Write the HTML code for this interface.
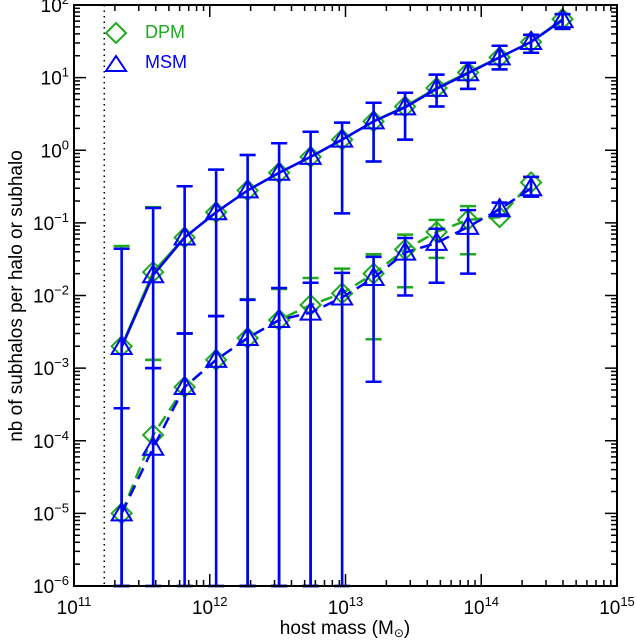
<!DOCTYPE html>
<html><head><meta charset="utf-8"><style>
body{margin:0;background:#fff}
svg{display:block;font-family:"Liberation Sans",sans-serif}
</style></head><body>
<svg id="c" width="636" height="640"></svg>
<script>
const logMass = [11.351,11.583,11.815,12.047,12.279,12.511,12.743,12.975,13.207,13.439,13.671,13.903,14.135,14.367,14.599];
const dpmHalo = [2.0e-3,0.021,0.063,0.14,0.28,0.49,0.81,1.4,2.5,4.0,7.2,11.8,19,31,64];
const dpmHaloUp = [0.048,0.165,0.32,0.54,0.86,1.25,1.8,2.4,4.5,6.2,11,16,27.5,39,75];
const dpmHaloLo = [1e-7,1.3e-3,3e-3,5.2e-3,1e-7,1e-7,1e-7,0.135,0.7,1.4,4,7,13,22,47];
const msmHalo = [1.95e-3,0.019,0.063,0.14,0.28,0.49,0.81,1.4,2.5,3.9,7,11.5,19,31,62];
const msmHaloUp = [0.044,0.16,0.32,0.54,0.86,1.25,1.8,2.4,4.5,6.2,11,16,27.5,39,75];
const msmHaloLo = [1e-7,1e-3,3e-3,5.2e-3,1e-7,1e-7,1e-7,0.135,0.7,1.4,4,7,13,22,47];
const dpmSub = [1e-5,1.2e-4,5.5e-4,1.3e-3,2.6e-3,4.6e-3,7.4e-3,0.0107,0.02,0.043,0.075,0.11,0.12,0.36];
const dpmSubUp = [2.8e-4,1.3e-3,3e-3,5.2e-3,8.9e-3,0.0123,0.0174,0.0234,0.037,0.069,0.11,0.17,0.19,0.43];
const dpmSubLo = [1e-7,1e-7,1e-7,1e-7,1e-7,1e-7,1e-7,1e-7,2.5e-3,0.013,0.033,0.037,0.13,0.23];
const msmSub = [1e-5,8e-5,5.5e-4,1.3e-3,2.6e-3,4.6e-3,5.8e-3,9.4e-3,0.0174,0.039,0.053,0.088,0.154,0.3];
const msmSubUp = [2.8e-4,1e-3,3e-3,5.2e-3,8.7e-3,0.0127,0.015,0.0205,0.034,0.062,0.083,0.15,0.19,0.43];
const msmSubLo = [1e-7,1e-7,1e-7,1e-7,1e-7,1e-7,1e-7,1e-7,6.5e-4,0.01,0.015,0.02,0.13,0.23];
const xTicks = [11,12,13,14,15];
const yTicks = [-6,-5,-4,-3,-2,-1,0,1,2];
const cutMass = 11.223;

const NS="http://www.w3.org/2000/svg";
const svg=document.getElementById('c');
const L=74,R=617,T=5,B=586;
const X=lm=>L+(lm-11)/4*(R-L);
const Y=v=>{let lg=Math.log10(v);lg=Math.max(-6,Math.min(2,lg));return T+(2-lg)/8*(B-T);};
function el(tag,attrs,parent){const e=document.createElementNS(NS,tag);for(const k in attrs)e.setAttribute(k,attrs[k]);(parent||svg).appendChild(e);return e;}
const GREEN='#1faa1f',BLUE='#0000ff';

const cl=el('line',{x1:X(cutMass),x2:X(cutMass),y1:T,y2:B,stroke:'#000','stroke-width':1.5,'stroke-dasharray':'1.5 4'});



function series(vals,up,lo,color,marker,dashed,name){
  const g=el('g',{});
  
  
  vals.forEach((v,i)=>{
    const x=X(logMass[i]);
    const eb=el('g',{stroke:color,'stroke-width':2.5},g);
    
    
    el('line',{x1:x,x2:x,y1:Y(up[i]),y2:Y(lo[i])},eb);
    el('line',{x1:x-8,x2:x+8,y1:Y(up[i]),y2:Y(up[i])},eb);
    el('line',{x1:x-8,x2:x+8,y1:Y(lo[i]),y2:Y(lo[i])},eb);
  });
  const pts=vals.map((v,i)=>X(logMass[i])+','+Y(v)).join(' ');
  const ln=el('polyline',{points:pts,fill:'none',stroke:color,'stroke-width':2.5},g);
  if(dashed)ln.setAttribute('stroke-dasharray','12 7');
  
  
  vals.forEach((v,i)=>{
    const x=X(logMass[i]),y=Y(v);
    let m;
    if(marker==='d')m=el('polygon',{points:`${x},${y-10} ${x+10},${y} ${x},${y+10} ${x-10},${y}`,fill:'none',stroke:color,'stroke-width':2},g);
    else m=el('polygon',{points:`${x},${y-10} ${x+10},${y+7} ${x-10},${y+7}`,fill:'none',stroke:color,'stroke-width':2},g);
    
    
  });
}
series(dpmHalo,dpmHaloUp,dpmHaloLo,GREEN,'d',false,'dpm-halo-series');
series(dpmSub,dpmSubUp,dpmSubLo,GREEN,'d',true,'dpm-subhalo-series');
series(msmHalo,msmHaloUp,msmHaloLo,BLUE,'t',false,'msm-halo-series');
series(msmSub,msmSubUp,msmSubLo,BLUE,'t',true,'msm-subhalo-series');

const fr=el('rect',{x:L,y:T,width:R-L,height:B-T,fill:'none',stroke:'#000','stroke-width':2});


const tg=el('g',{stroke:'#000','stroke-width':1.5});


for(let d=11;d<15;d++)for(let k=1;k<10;k++){
  const x=X(d+Math.log10(k)),len=k===1?12:6;
  el('line',{x1:x,x2:x,y1:B,y2:B-len},tg);el('line',{x1:x,x2:x,y1:T,y2:T+len},tg);
}
for(let d=-6;d<2;d++)for(let k=1;k<10;k++){
  const y=Y(Math.pow(10,d)*k),len=k===1?12:6;
  el('line',{x1:L,x2:L+len,y1:y,y2:y},tg);el('line',{x1:R,x2:R-len,y1:y,y2:y},tg);
}
function powLabel(x,y,e,anchor,name){
  const t=el('text',{x:x,y:y,'font-size':19,fill:'#000','text-anchor':anchor});
  
  
  const a=el('tspan',{},t);a.textContent='10';
  const b=el('tspan',{dy:-8,'font-size':13},t);b.textContent=String(e).replace('-','\u2212');
}
xTicks.forEach(e=>powLabel(X(e),614,e,'middle','x-tick-label'));
yTicks.forEach(e=>powLabel(69,Y(Math.pow(10,e))+7,e,'end','y-tick-label'));
</script>
<div style="position:absolute;left:0;top:0;width:636px;height:640px;pointer-events:none">
<svg width="636" height="640" style="position:absolute;left:0;top:0;font-family:'Liberation Sans',sans-serif">
<text x="345" y="634" font-size="19" text-anchor="middle">host mass (M<tspan font-size="12" dy="3">⊙</tspan><tspan dy="-3">)</tspan></text>
<text transform="translate(22,296) rotate(-90)" font-size="19" text-anchor="middle">nb of subhalos per halo or subhalo</text>
<g>
<polygon points="116,23 126,33 116,43 106,33" fill="none" stroke="#1faa1f" stroke-width="2"/>
<text x="145" y="38" font-size="18" fill="#1faa1f">DPM</text>
<polygon points="116,56 126,71 106,71" fill="none" stroke="#0000ff" stroke-width="2"/>
<text x="145" y="68" font-size="18" fill="#0000ff">MSM</text>
</g>
</svg></div>
</body></html>
